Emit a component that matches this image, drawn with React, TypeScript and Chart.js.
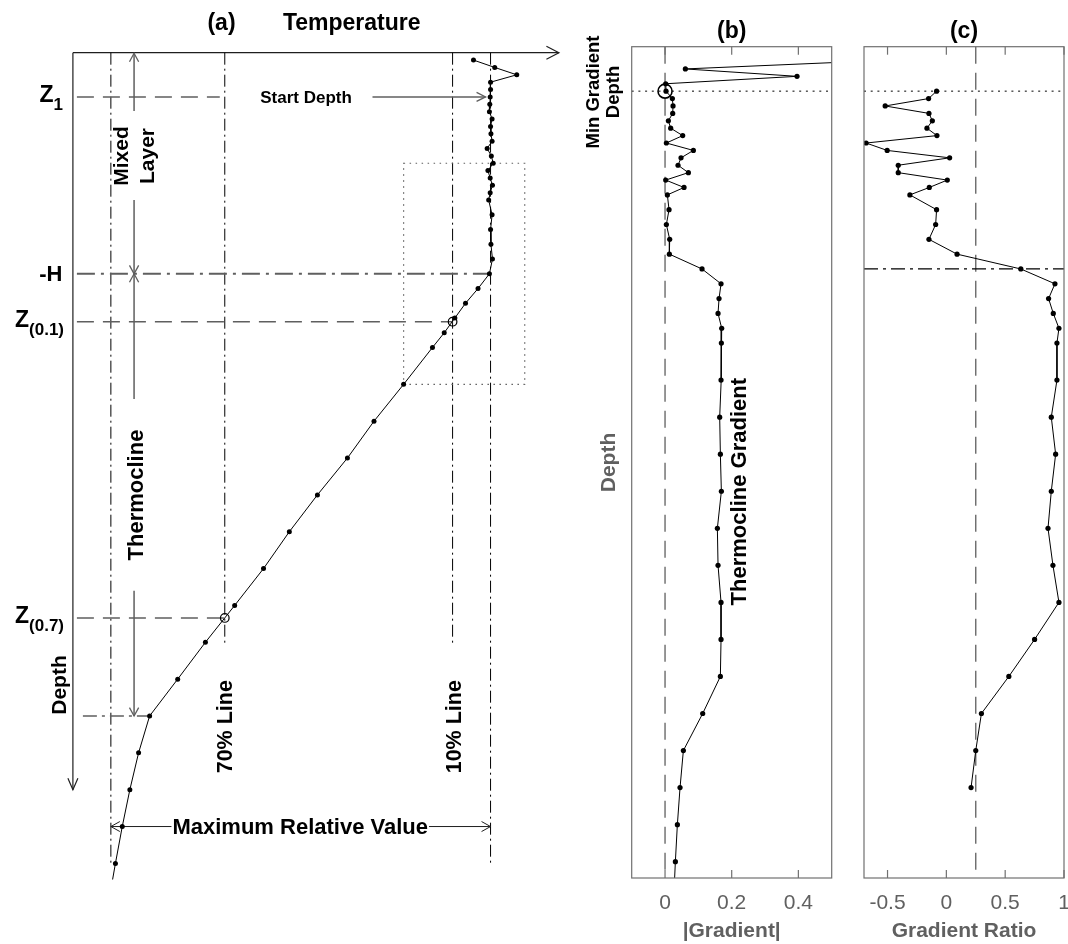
import React, { useEffect, useRef } from 'react';
import { Chart, registerables } from 'chart.js';

Chart.register(...registerables);

const FONT = '"Liberation Sans", Arial, Helvetica, sans-serif';
const W = 1068;
const H = 944;

// ---------------- Data ----------------
// Panel (a): relative temperature profile (0 = bottom value, 1 = mixed-layer value)
const depthA = [1, 2, 3, 4, 5, 6, 7, 8, 9, 10, 11, 12, 13, 14, 15, 16, 17, 18, 19, 20,
  22, 24, 26, 28, 30, 32, 34, 36, 38, 40,
  45, 50, 55, 60, 65, 70, 75, 80, 85, 90, 95, 100, 105, 110, 115];
const tempA = [0.955, 1.011, 1.069, 1.0, 1.0, 0.999, 0.998, 0.997, 1.004, 1.0, 1.001, 1.004, 0.991, 1.002, 1.007, 0.993, 0.999, 1.005, 0.999, 0.995,
  1.004, 1.0, 1.001, 1.005, 0.997, 0.967, 0.934, 0.906, 0.878, 0.847,
  0.771, 0.693, 0.623, 0.544, 0.47, 0.402, 0.326, 0.249, 0.176, 0.102, 0.073, 0.05, 0.03, 0.012, -0.005];

// Panel (b): |gradient|
const depthB = [2, 3, 4, 5, 6, 7, 8, 9, 10, 11, 12, 13, 14, 15, 16, 17, 18, 19, 20,
  22, 24, 26, 28, 30, 32, 34, 36, 38, 40,
  45, 50, 55, 60, 65, 70, 75, 80, 85, 90, 95, 100, 105, 110, 115];
const gradB = [0.58, 0.061, 0.396, 0.002, 0.003, 0.022, 0.024, 0.023, 0.01, 0.017, 0.053, 0.004, 0.085, 0.048, 0.039, 0.07, 0.002, 0.057, 0.007,
  0.012, 0.004, 0.014, 0.013, 0.111, 0.168, 0.162, 0.159, 0.17, 0.169,
  0.168, 0.164, 0.166, 0.169, 0.157, 0.159, 0.168, 0.168, 0.166, 0.113, 0.055, 0.045, 0.037, 0.031, 0.026];

// Panel (c): gradient ratio
const depthC = [6, 7, 8, 9, 10, 11, 12, 13, 14, 15, 16, 17, 18, 19, 20,
  22, 24, 26, 28, 30, 32, 34, 36, 38, 40,
  45, 50, 55, 60, 65, 70, 75, 80, 85, 90, 95, 100];
const ratioC = [-0.083, -0.151, -0.52, -0.148, -0.119, -0.165, -0.08, -0.682, -0.503, 0.028, -0.409, -0.409, 0.008, -0.145, -0.31,
  -0.083, -0.091, -0.148, 0.091, 0.633, 0.923, 0.869, 0.909, 0.957, 0.94,
  0.94, 0.892, 0.929, 0.892, 0.864, 0.906, 0.957, 0.75, 0.531, 0.298, 0.25, 0.21];

const ticksB = [0, 0.2, 0.4];
const ticksC = [-0.5, 0, 0.5, 1];

const startDepth = 6; // Z1 / min gradient depth
const mixedDepth = 30; // -H
const z01Depth = 36.5;
const z07Depth = 76.7;
const thermoBottom = 90;
const ratioThreshold = 0.25;
const depthMax = 112.2;

// ---------------- Styles ----------------
const GRAY = '#5f5f5f';
const DARK = '#1e1e1e';
const LABEL = '#606060';
const BOX = '#707070';

function seg(ctx: CanvasRenderingContext2D, x1: number, y1: number, x2: number, y2: number, color: string, lw: number, dash: number[] = []) {
  ctx.save();
  ctx.beginPath();
  ctx.strokeStyle = color;
  ctx.lineWidth = lw;
  ctx.setLineDash(dash);
  ctx.moveTo(x1, y1);
  ctx.lineTo(x2, y2);
  ctx.stroke();
  ctx.restore();
}

function head(ctx: CanvasRenderingContext2D, tx: number, ty: number, dx: number, dy: number, len: number, half: number, color: string, lw: number) {
  const bx = tx - dx * len;
  const by = ty - dy * len;
  const px = -dy;
  const py = dx;
  ctx.save();
  ctx.beginPath();
  ctx.strokeStyle = color;
  ctx.lineWidth = lw;
  ctx.setLineDash([]);
  ctx.moveTo(bx + px * half, by + py * half);
  ctx.lineTo(tx, ty);
  ctx.lineTo(bx - px * half, by - py * half);
  ctx.stroke();
  ctx.restore();
}

function txt(ctx: CanvasRenderingContext2D, s: string, x: number, y: number, size: number,
  o: { rot?: boolean; color?: string; weight?: string; align?: CanvasTextAlign; bg?: boolean } = {}) {
  ctx.save();
  ctx.translate(x, y);
  if (o.rot) ctx.rotate(-Math.PI / 2);
  ctx.font = `${o.weight ?? 'bold'} ${size}px ${FONT}`;
  ctx.textAlign = o.align ?? 'center';
  ctx.textBaseline = 'middle';
  if (o.bg) {
    const w = ctx.measureText(s).width;
    ctx.fillStyle = '#fff';
    ctx.fillRect(-w / 2 - 1, -size * 0.42, w + 2, size * 0.84);
  }
  ctx.fillStyle = o.color ?? '#000';
  ctx.fillText(s, 0, 0);
  ctx.restore();
}

function zLabel(ctx: CanvasRenderingContext2D, sub: string, rightX: number, yLine: number) {
  ctx.save();
  ctx.font = `bold 23px ${FONT}`;
  const wm = ctx.measureText('Z').width;
  ctx.font = `bold 17px ${FONT}`;
  const ws = ctx.measureText(sub).width;
  ctx.restore();
  const left = rightX - wm - ws;
  txt(ctx, 'Z', left, yLine - 1.5, 23, { align: 'left' });
  txt(ctx, sub, left + wm, yLine + 8.5, 17, { align: 'left' });
}

function circle(ctx: CanvasRenderingContext2D, x: number, y: number, r: number, lw: number) {
  ctx.save();
  ctx.beginPath();
  ctx.strokeStyle = '#000';
  ctx.lineWidth = lw;
  ctx.setLineDash([]);
  ctx.arc(x, y, r, 0, Math.PI * 2);
  ctx.stroke();
  ctx.restore();
}

function boxAndTicks(chart: any, ticks: number[]) {
  const { ctx, chartArea: a } = chart;
  const xs = chart.scales.x;
  ctx.save();
  ctx.strokeStyle = BOX;
  ctx.lineWidth = 1.2;
  ctx.setLineDash([]);
  ctx.strokeRect(a.left, a.top, a.right - a.left, a.bottom - a.top);
  ctx.restore();
  for (const v of ticks) {
    const px = xs.getPixelForValue(v);
    seg(ctx, px, a.top, px, a.top + 8, BOX, 1.2);
    seg(ctx, px, a.bottom, px, a.bottom - 8, BOX, 1.2);
  }
}

// ---------------- Plugins ----------------
const panelAPlugin = {
  id: 'panelA',
  beforeDatasetsDraw(chart: any) {
    const { ctx } = chart;
    const xs = chart.scales.x;
    const ys = chart.scales.y;
    const X = (v: number) => xs.getPixelForValue(v);
    const Y = (d: number) => ys.getPixelForValue(d);
    const x0 = X(-0.1);
    const y0 = Y(0);
    const lx = x0 + 4;

    // axes arrows
    seg(ctx, x0, y0, X(1.18), y0, DARK, 1.2);
    head(ctx, X(1.18), y0, 1, 0, 12.5, 6.5, DARK, 1.2);
    seg(ctx, x0, y0, x0, Y(100), DARK, 1.2);
    head(ctx, x0, Y(100), 0, 1, 11.5, 5, DARK, 1.2);

    // vertical dash-dot reference lines
    const DD = [12, 4, 2, 4];
    for (const v of [0, 1]) seg(ctx, X(v), y0, X(v), Y(110), '#000', 1, DD);
    for (const v of [0.3, 0.9]) seg(ctx, X(v), y0, X(v), Y(80.5), '#000', 1, DD);

    // dotted zoom rectangle
    ctx.save();
    ctx.strokeStyle = GRAY;
    ctx.lineWidth = 1.2;
    ctx.setLineDash([1.5, 4.5]);
    ctx.strokeRect(X(0.771), Y(15), X(1.09) - X(0.771), Y(45) - Y(15));
    ctx.restore();

    // horizontal markers
    const DASH = [17, 9];
    seg(ctx, lx, Y(startDepth), X(0.3) - 5, Y(startDepth), GRAY, 1.5, DASH);
    seg(ctx, lx, Y(z01Depth), X(0.9), Y(z01Depth), GRAY, 1.5, DASH);
    seg(ctx, lx, Y(z07Depth), X(0.3), Y(z07Depth), GRAY, 1.5, DASH);
    seg(ctx, lx, Y(mixedDepth), X(tempA[depthA.indexOf(mixedDepth)]), Y(mixedDepth), GRAY, 2, [18, 6, 3, 6]);
    seg(ctx, x0 + 10, Y(thermoBottom), X(tempA[depthA.indexOf(thermoBottom)]), Y(thermoBottom), GRAY, 1.5, [14, 5, 3, 5]);

    // layer arrows
    const ax = X(0) + 23.2;
    seg(ctx, ax, y0 + 0.6, ax, Y(7.9), GRAY, 1.5);
    head(ctx, ax, y0 + 0.6, 0, -1, 8.4, 4.6, GRAY, 1.3);
    seg(ctx, ax, Y(20), ax, Y(mixedDepth), GRAY, 1.5);
    head(ctx, ax, Y(mixedDepth), 0, 1, 8.4, 4.6, GRAY, 1.3);
    seg(ctx, ax, Y(mixedDepth), ax, Y(47), GRAY, 1.5);
    head(ctx, ax, Y(mixedDepth), 0, -1, 8.4, 4.6, GRAY, 1.3);
    seg(ctx, ax, Y(73), ax, Y(thermoBottom), GRAY, 1.5);
    head(ctx, ax, Y(thermoBottom), 0, 1, 8.4, 4.6, GRAY, 1.3);

    // start depth arrow
    const sy = Y(startDepth);
    seg(ctx, 372.5, sy, X(1) - 5, sy, GRAY, 1.5);
    head(ctx, X(1) - 5, sy, 1, 0, 9, 4.5, GRAY, 1.3);

    // maximum relative value arrow
    const my = Y(105);
    seg(ctx, X(0), my, X(1), my, DARK, 1);
    head(ctx, X(0), my, -1, 0, 9, 5, DARK, 1);
    head(ctx, X(1), my, 1, 0, 9, 5, DARK, 1);
  },
  afterDatasetsDraw(chart: any) {
    const { ctx } = chart;
    const xs = chart.scales.x;
    const ys = chart.scales.y;
    const X = (v: number) => xs.getPixelForValue(v);
    const Y = (d: number) => ys.getPixelForValue(d);

    circle(ctx, X(0.9), Y(z01Depth), 4.3, 1.2);
    circle(ctx, X(0.3), Y(z07Depth), 4.3, 1.2);

    txt(ctx, '(a)', 221.5, 23.5, 23);
    txt(ctx, 'Temperature', 351.7, 23.5, 23);
    txt(ctx, 'Start Depth', 306, 98, 17);
    txt(ctx, 'Mixed', 122, 156, 21, { rot: true });
    txt(ctx, 'Layer', 148.5, 156, 21, { rot: true });
    txt(ctx, 'Thermocline', 136.5, 495, 22, { rot: true });
    txt(ctx, 'Depth', 60, 685, 21, { rot: true });
    txt(ctx, '70% Line', 226.5, 726.7, 21.5, { rot: true });
    txt(ctx, '10% Line', 455, 726.7, 21.5, { rot: true });
    txt(ctx, 'Maximum Relative Value', (X(0) + X(1)) / 2 - 0.5, Y(105) + 1, 22, { bg: true });

    zLabel(ctx, '1', 63, Y(startDepth));
    zLabel(ctx, '(0.1)', 64, Y(z01Depth));
    zLabel(ctx, '(0.7)', 64, Y(z07Depth));
    txt(ctx, '-H', 62.5, Y(mixedDepth) + 1.5, 22, { align: 'right' });
  },
};

const panelBPlugin = {
  id: 'panelB',
  beforeDatasetsDraw(chart: any) {
    const { ctx, chartArea: a } = chart;
    const xs = chart.scales.x;
    const ys = chart.scales.y;
    const zx = xs.getPixelForValue(0);
    seg(ctx, zx, a.top, zx, a.bottom, GRAY, 1.3, [17, 9]);
    const dy = ys.getPixelForValue(startDepth);
    seg(ctx, a.left, dy, a.right, dy, '#000', 1, [2, 4.7]);
  },
  afterDatasetsDraw(chart: any) {
    const { ctx } = chart;
    const xs = chart.scales.x;
    const ys = chart.scales.y;
    const gMin = gradB[depthB.indexOf(startDepth)];
    circle(ctx, xs.getPixelForValue(gMin) - 1, ys.getPixelForValue(startDepth), 7, 1.6);
    boxAndTicks(chart, ticksB);
    txt(ctx, '(b)', 731.7, 31.5, 23);
    txt(ctx, 'Min Gradient', 594, 92, 18.5, { rot: true });
    txt(ctx, 'Depth', 614, 92, 18.5, { rot: true });
    txt(ctx, 'Depth', 609.7, 462.5, 21, { rot: true, color: LABEL });
    txt(ctx, 'Thermocline Gradient', 740, 491.7, 22, { rot: true });
  },
};

const panelCPlugin = {
  id: 'panelC',
  beforeDatasetsDraw(chart: any) {
    const { ctx, chartArea: a } = chart;
    const xs = chart.scales.x;
    const ys = chart.scales.y;
    const tx = xs.getPixelForValue(ratioThreshold);
    seg(ctx, tx, a.top, tx, a.bottom, GRAY, 1.3, [17, 9]);
    const dy = ys.getPixelForValue(startDepth);
    seg(ctx, a.left, dy, a.right, dy, '#000', 1, [2, 4.7]);
    const hy = ys.getPixelForValue(mixedDepth);
    seg(ctx, a.left, hy, a.right, hy, '#000', 1.2, [14, 5, 3, 5]);
  },
  afterDatasetsDraw(chart: any) {
    const { ctx } = chart;
    boxAndTicks(chart, ticksC);
    txt(ctx, '(c)', 964, 31.5, 23);
  },
};

const lineStyle = {
  showLine: true,
  borderColor: '#000',
  borderWidth: 1,
  pointRadius: 2.6,
  pointHoverRadius: 2.6,
  pointBackgroundColor: '#000',
  pointBorderWidth: 0,
  clip: 0,
};

function bottomAxis(min: number, max: number, ticks: number[], title: string) {
  return {
    type: 'linear',
    position: 'bottom',
    min,
    max,
    afterBuildTicks: (s: any) => {
      s.ticks = ticks.map((v) => ({ value: v }));
    },
    afterFit: (s: any) => {
      s.height = 66;
      s.paddingLeft = 0;
      s.paddingRight = 0;
    },
    grid: { display: false, drawTicks: false },
    border: { display: false },
    ticks: {
      padding: 13,
      color: LABEL,
      font: { family: FONT, size: 21 },
      maxRotation: 0,
      minRotation: 0,
      autoSkip: false,
      callback: (v: any) => String(v),
    },
    title: {
      display: true,
      text: title,
      color: LABEL,
      font: { family: FONT, size: 21, weight: 'bold' },
      padding: { top: 0, bottom: 0 },
    },
  };
}

const baseOptions = {
  animation: false,
  responsive: false,
  events: [],
  plugins: { legend: { display: false }, tooltip: { enabled: false } },
};

export default function App() {
  const refA = useRef<HTMLCanvasElement>(null);
  const refB = useRef<HTMLCanvasElement>(null);
  const refC = useRef<HTMLCanvasElement>(null);

  useEffect(() => {
    const charts: Chart[] = [];
    Chart.defaults.font.family = FONT;

    charts.push(new Chart(refA.current as HTMLCanvasElement, {
      type: 'scatter',
      data: { datasets: [{ ...lineStyle, pointRadius: 2.5, data: depthA.map((d, i) => ({ x: tempA[i], y: d })) }] },
      options: {
        ...baseOptions,
        layout: { padding: { left: 72.9, right: W - 566.5, top: 52.7, bottom: H - 879.6 } },
        scales: {
          x: { type: 'linear', min: -0.1, max: 1.2, display: false },
          y: { type: 'linear', min: 0, max: depthMax, reverse: true, display: false },
        },
      } as any,
      plugins: [panelAPlugin],
    }));

    charts.push(new Chart(refB.current as HTMLCanvasElement, {
      type: 'scatter',
      data: { datasets: [{ ...lineStyle, data: depthB.map((d, i) => ({ x: gradB[i], y: d })) }] },
      options: {
        ...baseOptions,
        layout: { padding: { left: 631.7, right: W - 831.7, top: 46.7, bottom: 0 } },
        scales: {
          x: bottomAxis(-0.1, 0.5, ticksB, '|Gradient|'),
          y: { type: 'linear', min: 0, max: depthMax, reverse: true, display: false },
        },
      } as any,
      plugins: [panelBPlugin],
    }));

    charts.push(new Chart(refC.current as HTMLCanvasElement, {
      type: 'scatter',
      data: { datasets: [{ ...lineStyle, data: depthC.map((d, i) => ({ x: ratioC[i], y: d })) }] },
      options: {
        ...baseOptions,
        layout: { padding: { left: 864, right: W - 1064, top: 46.7, bottom: 0 } },
        scales: {
          x: bottomAxis(-0.7, 1, ticksC, 'Gradient Ratio'),
          y: { type: 'linear', min: 0, max: depthMax, reverse: true, display: false },
        },
      } as any,
      plugins: [panelCPlugin],
    }));

    return () => charts.forEach((c) => c.destroy());
  }, []);

  const cs: React.CSSProperties = { position: 'absolute', left: 0, top: 0 };
  return (
    <div style={{ position: 'absolute', left: 0, top: 0, width: W, height: H, background: '#fff', overflow: 'hidden' }}>
      <canvas ref={refA} width={W} height={H} style={cs} />
      <canvas ref={refB} width={W} height={H} style={cs} />
      <canvas ref={refC} width={W} height={H} style={cs} />
    </div>
  );
}
